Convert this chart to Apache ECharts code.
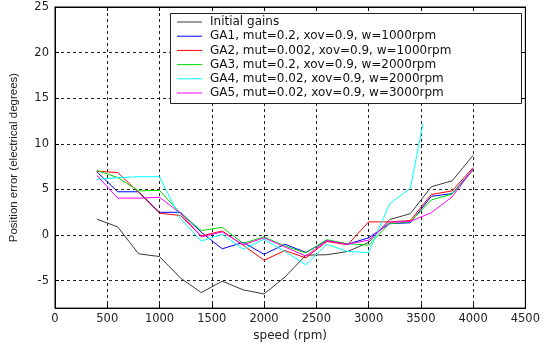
<!DOCTYPE html>
<html>
<head>
<meta charset="utf-8">
<script src="https://cdn.jsdelivr.net/npm/echarts@6/dist/echarts.min.js"></script>
<style>
html,body{margin:0;padding:0;background:#fff;}
#c{width:543px;height:347px;}
</style>
</head>
<body>
<div id="c"></div>
<script>
// ---- data ----
var speeds = [400,600,800,1000,1200,1400,1600,1800,2000,2200,2400,2600,2800,3000,3200,3400,3600,3800,4000];
var speedsGA4 = [400,600,800,1000,1200,1400,1600,1800,2000,2200,2400,2600,2800,3000,3200,3400,3520];
var initialGains = [1.75,0.9,-2.05,-2.35,-4.7,-6.3,-5.05,-6.0,-6.45,-4.6,-2.2,-2.15,-1.8,-0.8,1.7,2.35,5.3,5.95,8.75];
var ga1 = [6.95,4.75,4.75,2.5,2.5,0.3,-1.5,-0.8,-2.1,-1.0,-1.9,-0.6,-1.0,-0.3,1.25,1.35,4.25,4.55,7.2];
var ga2 = [7.0,6.85,4.7,2.4,2.15,-0.1,0.45,-1.1,-2.75,-1.7,-2.5,-0.7,-1.05,1.45,1.45,1.6,4.45,4.85,7.4];
var ga3 = [7.1,6.3,4.85,4.9,2.4,0.5,0.85,-0.9,-0.2,-1.2,-1.95,-0.5,-0.95,-1.1,1.25,1.45,3.85,4.5,7.1];
var ga4 = [6.1,6.3,6.4,6.4,1.8,-0.65,0.1,-1.55,-0.45,-1.8,-3.25,-1.0,-1.8,-1.9,3.4,5.15,12.2];
var ga5 = [6.55,4.05,4.05,4.15,2.4,-0.2,0.35,-1.05,-0.3,-1.3,-2.3,-0.6,-1.0,-0.55,1.4,1.5,2.45,4.2,7.25];
var seriesNames = ['Initial gains','GA1, mut=0.2, xov=0.9, w=1000rpm','GA2, mut=0.002, xov=0.9, w=1000rpm','GA3, mut=0.2, xov=0.9, w=2000rpm','GA4, mut=0.02, xov=0.9, w=2000rpm','GA5, mut=0.02, xov=0.9, w=3000rpm'];
var xTitle = 'speed (rpm)';
var yTitle = 'Position error (electrical degrees)';

function pairs(xs, ys){ return ys.map(function(v,i){ return [xs[i], v]; }); }

var colors = ['#3a3a3a','#0000ff','#ff0000','#00dd00','#00ffff','#ff00ff'];
var seriesData = [
  pairs(speeds, initialGains), pairs(speeds, ga1), pairs(speeds, ga2),
  pairs(speeds, ga3), pairs(speedsGA4, ga4), pairs(speeds, ga5)
];

var chart = echarts.init(document.getElementById('c'), null, {renderer:'canvas'});
var gridCfg = {left:52, right:14, top:7, bottom:35};
var dash = {color:'#222', width:1, type:[3,3]};
var tickLab = {color:'#222', fontFamily:'DejaVu Sans', fontSize:11.5};

var option = {
  backgroundColor:'#fff',
  animation:false,
  grid: Object.assign({show:true, borderColor:'#000', borderWidth:1, backgroundColor:'#fff'}, gridCfg),
  graphic:[{
    type:'rect', z:3, shape:{x:170.5, y:13.5, width:351, height:90},
    style:{fill:'#fff', stroke:'#222', lineWidth:1}
  }],
  legend:{
    z:4, left:177, top:15, orient:'vertical', itemWidth:25, itemHeight:1, itemGap:0.2,
    icon:'rect', padding:0,
    textStyle:{fontFamily:'DejaVu Sans', fontSize:12, color:'#111', lineHeight:14, padding:[0,0,0,3]},
    data: seriesNames
  },
  xAxis:[{
    type:'value', min:0, max:4500, interval:500, position:'bottom',
    name:xTitle, nameLocation:'middle', nameGap:19,
    nameTextStyle:{fontFamily:'DejaVu Sans', fontSize:12, color:'#222'},
    axisLine:{onZero:false, lineStyle:{color:'#000'}},
    axisTick:{inside:true, length:4, lineStyle:{color:'#000'}},
    axisLabel:Object.assign({margin:5, formatter:function(v){ return String(v); }}, tickLab),
    splitLine:{show:true, lineStyle:dash}
  },{
    type:'value', min:0, max:4500, interval:500, position:'top',
    axisLine:{onZero:false, lineStyle:{color:'#000'}},
    axisTick:{inside:true, length:4, lineStyle:{color:'#000'}},
    axisLabel:{show:false}, splitLine:{show:false}
  }],
  yAxis:[{
    type:'value', min:-8, max:25, splitNumber:6, position:'left',
    name:yTitle, nameLocation:'middle', nameGap:35,
    nameTextStyle:{fontFamily:'Liberation Sans', fontSize:11.5, color:'#222'},
    axisLine:{show:true, onZero:false, lineStyle:{color:'#000'}},
    axisTick:{show:true, inside:true, length:4, lineStyle:{color:'#000'}},
    axisLabel:Object.assign({margin:6, showMinLabel:false, formatter:function(v){ return (v % 5 === 0) ? String(v) : ''; }}, tickLab),
    splitLine:{show:true, lineStyle:dash}
  },{
    type:'value', min:-8, max:25, splitNumber:6, position:'right',
    axisLine:{show:true, onZero:false, lineStyle:{color:'#000'}},
    axisTick:{show:true, inside:true, length:4, lineStyle:{color:'#000'}},
    axisLabel:{show:false}, splitLine:{show:false}
  }],
  series: seriesNames.map(function(n,i){
    return {
      name:n, type:'line', data:seriesData[i], xAxisIndex:0, yAxisIndex:0,
      showSymbol:false, symbol:'none', z:2,
      lineStyle:{color:colors[i], width:1}, itemStyle:{color:colors[i]},
      emphasis:{disabled:true}
    };
  })
};
chart.setOption(option);
</script>
</body>
</html>
